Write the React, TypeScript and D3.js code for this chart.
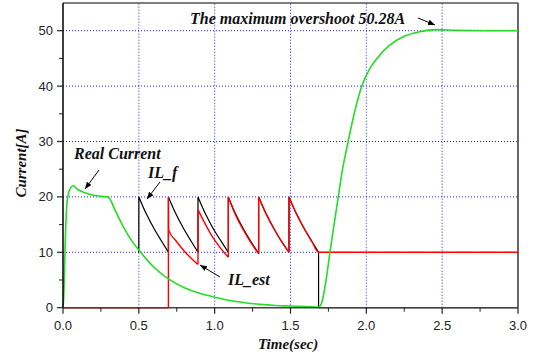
import React, { useEffect, useRef } from 'react';
import * as d3 from 'd3';

// time (sec), current (A)
const realCurrent: [number, number][] = [
  [0, 0], [0.005, 2], [0.015, 12], [0.025, 18.5], [0.04, 21], [0.066, 22], [0.1, 21.3],
  [0.15, 20.7], [0.2, 20.3], [0.25, 20.1], [0.295, 20], [0.35, 17.2], [0.4, 14.5],
  [0.45, 12.2], [0.5, 10.4], [0.6, 7.3], [0.7, 5.1], [0.8, 3.6], [0.9, 2.6], [1.0, 1.9],
  [1.1, 1.3], [1.2, 0.9], [1.3, 0.6], [1.4, 0.4], [1.5, 0.3], [1.6, 0.2], [1.685, 0.1],
  [1.7, 0.5], [1.72, 2.6], [1.74, 6], [1.76, 10], [1.79, 15.5], [1.815, 20], [1.84, 24.5],
  [1.88, 30], [1.92, 35], [1.97, 40], [2.02, 43], [2.07, 45], [2.15, 47.3], [2.25, 49],
  [2.35, 49.8], [2.46, 50.2], [2.6, 50.05], [2.8, 50], [3.0, 50],
];

const ilF: [number, number][] = [
  [0.5, 10], [0.5, 20], [0.55, 16.9], [0.6, 14.3], [0.65, 12.0], [0.695, 10],
  [0.695, 20], [0.745, 16.9], [0.795, 14.3], [0.845, 12.0], [0.89, 10],
  [0.89, 20], [0.94, 16.9], [0.99, 14.3], [1.04, 12.1], [1.09, 10],
  [1.09, 20], [1.14, 16.8], [1.19, 14.2], [1.24, 11.9], [1.29, 9.8],
  [1.29, 20], [1.34, 16.9], [1.39, 14.3], [1.44, 12.0], [1.49, 10],
  [1.49, 20], [1.54, 16.9], [1.59, 14.3], [1.64, 12.0], [1.685, 10],
  [1.685, 0], [3.0, 0],
];

const ilEst: [number, number][] = [
  [0, 0], [0.695, 0], [0.695, 20], [0.697, 14], [0.75, 11.9], [0.8, 10.2], [0.85, 8.8], [0.89, 7.8],
  [0.89, 17.7], [0.94, 15.0], [0.99, 12.6], [1.04, 10.7], [1.09, 9.1],
  [1.09, 20], [1.14, 16.6], [1.19, 14.0], [1.24, 11.7], [1.29, 9.7],
  [1.29, 20], [1.34, 16.9], [1.39, 14.3], [1.44, 12.0], [1.49, 10],
  [1.49, 20], [1.54, 16.9], [1.59, 14.3], [1.64, 12.0], [1.685, 10],
  [3.0, 10],
];

const xTicks = [0, 0.5, 1.0, 1.5, 2.0, 2.5, 3.0];
const xMinor = [0.25, 0.75, 1.25, 1.75, 2.25, 2.75];
const yTicks = [0, 10, 20, 30, 40, 50];
const yMinor = [5, 15, 25, 35, 45];

const W = 534, H = 360;

// split a trace at its vertical jumps so each smooth run is curved on its own
function pieces(pts: [number, number][]) {
  const out: [number, number][][] = [];
  let cur: [number, number][] = [pts[0]];
  for (let i = 1; i < pts.length; i++) {
    if (pts[i][0] === pts[i - 1][0]) {
      if (cur.length > 1) out.push(cur);
      out.push([pts[i - 1], pts[i]]);
      cur = [pts[i]];
    } else {
      cur.push(pts[i]);
    }
  }
  if (cur.length > 1) out.push(cur);
  return out;
}

export default function App() {
  const ref = useRef<SVGSVGElement>(null);

  useEffect(() => {
    const svg = d3.select(ref.current);
    svg.selectAll('*').remove();

    const x = d3.scaleLinear().domain([0, 3]).range([63, 518]);
    const y = d3.scaleLinear().domain([0, 55]).range([307.7, 3]);

    const defs = svg.append('defs');
    defs.append('marker')
      .attr('id', 'arr').attr('viewBox', '0 0 10 10').attr('refX', 10).attr('refY', 5)
      .attr('markerWidth', 7).attr('markerHeight', 7).attr('orient', 'auto')
      .append('path').attr('d', 'M0,1 L10,5 L0,9 Z').attr('fill', '#000');

    // grid
    const grid = svg.append('g');
    grid.selectAll('.gx').data(xTicks.slice(1, -1)).enter().append('line')
      .attr('x1', (d: number) => x(d)).attr('x2', (d: number) => x(d))
      .attr('y1', y(0)).attr('y2', y(55))
      .attr('stroke', '#2020ff').attr('stroke-width', 1).attr('stroke-dasharray', '1,2');
    grid.selectAll('.gy').data(yTicks.slice(1)).enter().append('line')
      .attr('x1', x(0)).attr('x2', x(3))
      .attr('y1', (d: number) => y(d)).attr('y2', (d: number) => y(d))
      .attr('stroke', '#2020ff').attr('stroke-width', 1).attr('stroke-dasharray', '1,2');

    // frame
    svg.append('line').attr('x1', x(0)).attr('x2', x(3)).attr('y1', y(55)).attr('y2', y(55))
      .attr('stroke', '#000').attr('stroke-width', 1.2);
    svg.append('line').attr('x1', x(3)).attr('x2', x(3)).attr('y1', y(55)).attr('y2', y(0))
      .attr('stroke', '#666').attr('stroke-width', 2);

    const line = d3.line<[number, number]>()
      .x(d => x(d[0])).y(d => y(d[1]))
      .curve(d3.curveMonotoneX);

    const trace = (pts: [number, number][], color: string, w: number) => {
      svg.append('path')
        .attr('d', pieces(pts).map(p => line(p)).join(''))
        .attr('fill', 'none').attr('stroke', color).attr('stroke-width', w)
        .attr('stroke-linejoin', 'round');
    };
    trace(ilF, '#000', 1.2);
    trace(ilEst, '#ff0000', 1.4);
    trace(realCurrent, '#22dd22', 1.6);

    // axes
    const xAxis = svg.append('g');
    xAxis.append('line').attr('x1', x(0)).attr('x2', x(3)).attr('y1', y(0)).attr('y2', y(0))
      .attr('stroke', '#444').attr('stroke-width', 1.5);
    xAxis.selectAll('.t').data(xTicks).enter().append('line')
      .attr('x1', (d: number) => x(d)).attr('x2', (d: number) => x(d))
      .attr('y1', y(0)).attr('y2', y(0) + 6).attr('stroke', '#222').attr('stroke-width', 1.2);
    xAxis.selectAll('.m').data(xMinor).enter().append('line')
      .attr('x1', (d: number) => x(d)).attr('x2', (d: number) => x(d))
      .attr('y1', y(0)).attr('y2', y(0) + 4).attr('stroke', '#222').attr('stroke-width', 1);
    xAxis.selectAll('.l').data(xTicks).enter().append('text')
      .attr('x', (d: number) => x(d)).attr('y', y(0) + 22)
      .attr('text-anchor', 'middle').attr('font-family', 'Liberation Sans, Arial, sans-serif')
      .attr('font-size', 13).attr('fill', '#222')
      .text((d: number) => d.toFixed(1));

    const yAxis = svg.append('g');
    yAxis.append('line').attr('x1', x(0)).attr('x2', x(0)).attr('y1', y(0)).attr('y2', y(55))
      .attr('stroke', '#000').attr('stroke-width', 1.5);
    yAxis.selectAll('.t').data(yTicks).enter().append('line')
      .attr('x1', x(0) - 6).attr('x2', x(0))
      .attr('y1', (d: number) => y(d)).attr('y2', (d: number) => y(d)).attr('stroke', '#222').attr('stroke-width', 1.2);
    yAxis.selectAll('.m').data(yMinor).enter().append('line')
      .attr('x1', x(0) - 4).attr('x2', x(0))
      .attr('y1', (d: number) => y(d)).attr('y2', (d: number) => y(d)).attr('stroke', '#222').attr('stroke-width', 1);
    yAxis.selectAll('.l').data(yTicks).enter().append('text')
      .attr('x', x(0) - 10).attr('y', (d: number) => y(d) + 4.5)
      .attr('text-anchor', 'end').attr('font-family', 'Liberation Sans, Arial, sans-serif')
      .attr('font-size', 13).attr('fill', '#222')
      .text((d: number) => String(d));

    const serif = 'Liberation Serif, Times New Roman, serif';
    const label = (tx: number, ty: number, s: string, size = 16) =>
      svg.append('text').attr('x', tx).attr('y', ty)
        .attr('font-family', serif).attr('font-weight', 'bold').attr('font-style', 'italic')
        .attr('font-size', size).attr('fill', '#111').text(s);

    label(258, 349, 'Time(sec)', 15);
    svg.append('text').attr('transform', 'translate(26,163) rotate(-90)')
      .attr('text-anchor', 'middle')
      .attr('font-family', serif).attr('font-weight', 'bold').attr('font-style', 'italic')
      .attr('font-size', 15).attr('fill', '#111').text('Current[A]');

    label(190, 24, 'The maximum overshoot 50.28A');
    label(74, 159, 'Real Current');
    label(148, 178, 'IL_f');
    label(228, 285, 'IL_est');

    const arrow = (x1: number, y1: number, x2: number, y2: number) =>
      svg.append('line').attr('x1', x1).attr('y1', y1).attr('x2', x2).attr('y2', y2)
        .attr('stroke', '#000').attr('stroke-width', 1).attr('marker-end', 'url(#arr)');

    arrow(418, 18, 435, 25);
    arrow(99, 170, 85, 189);
    arrow(160, 182, 147, 199);
    arrow(220, 277, 200, 265);
  }, []);

  return (
    <svg ref={ref} width={W} height={H}
      style={{ position: 'absolute', left: 0, top: 0, background: '#fff' }} />
  );
}
